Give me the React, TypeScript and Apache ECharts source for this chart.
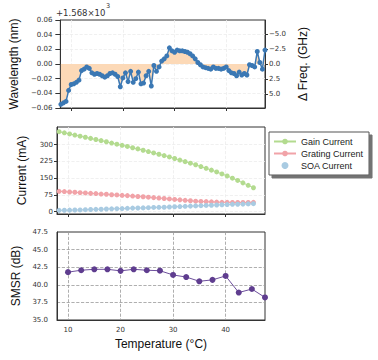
import React, { useEffect, useRef } from "react";
import * as echarts from "echarts";

// ---- Panel 1: wavelength offset (nm, relative to 1568 nm) ----
const tempsWl = [
  8, 8.5, 9, 9.5, 10, 10.5, 11, 11.5, 12, 12.5, 13, 13.5, 14, 14.5, 15, 15.5, 16, 16.5, 17, 17.5,
  18, 18.5, 19, 19.5, 20, 20.5, 21, 21.5, 22, 22.5, 23, 23.5, 24, 24.5, 25, 25.5, 26, 26.5, 27, 27.5,
  28, 28.5, 29, 29.5, 30, 30.5, 31, 31.5, 32, 32.5, 33, 33.5, 34, 34.5, 35, 35.5, 36, 36.5, 37, 37.5,
  38, 38.5, 39, 39.5, 40, 40.5, 41, 41.5, 42, 42.5, 43, 43.5, 44, 44.5, 45, 45.5, 46, 46.5, 47, 47.5,
];
const wavelengthOffset = [
  -0.055, -0.053, -0.051, -0.036, -0.028, -0.027, -0.025, -0.022, -0.009, -0.007,
  -0.004, -0.006, -0.012, -0.014, -0.013, -0.014, -0.016, -0.018, -0.016, -0.013,
  -0.012, -0.014, -0.017, -0.031, -0.019, -0.012, -0.024, -0.010, -0.025, -0.020,
  -0.011, -0.027, -0.026, -0.016, -0.010, -0.030, -0.002, -0.010, -0.004, 0.004,
  0.007, 0.011, 0.022, 0.018, 0.016, 0.019, 0.018, 0.018, 0.017, 0.016,
  0.014, 0.011, 0.007, 0.002, -0.001, -0.004, -0.005, -0.006, -0.007, -0.004,
  -0.006, -0.006, -0.007, -0.006, -0.004, -0.009, -0.012, -0.013, -0.016, -0.011,
  -0.015, -0.013, -0.015, -0.001, -0.002, -0.004, 0.017, 0.002, -0.007, 0.019,
];
const freqTicks = [-5, -2.5, 0, 2.5, 5];
const freqLimit = 7.32; // GHz equivalent of 0.06 nm at 1568 nm

// ---- Panel 2: currents (mA) ----
const tempsCur = [
  8.3, 9.3, 10.3, 11.3, 12.3, 13.3, 14.3, 15.3, 16.3, 17.3, 18.3, 19.3, 20.3, 21.3, 22.3, 23.3, 24.3, 25.3, 26.3,
  27.3, 28.3, 29.3, 30.3, 31.3, 32.3, 33.3, 34.3, 35.3, 36.3, 37.3, 38.3, 39.3, 40.3, 41.3, 42.3, 43.3, 44.3, 45.3,
];
const gainCurrent = [
  358, 353, 348, 343, 338, 333, 328, 323, 318, 313, 307, 302, 297, 292, 286, 281, 275, 269, 263,
  257, 251, 245, 238, 231, 224, 217, 210, 202, 194, 186, 178, 169, 160, 150, 140, 129, 118, 107,
];
const gratingCurrent = [
  91, 90, 88, 87, 85, 84, 82, 81, 79, 78, 76, 75, 73, 72, 70, 68, 67, 65, 63,
  61, 59, 57, 55, 53, 51, 49, 47, 46, 45, 44, 43, 42, 42, 41, 41, 41, 41, 42,
];
const soaCurrent = [
  6, 6.5, 7, 7.5, 8, 9, 10, 10.5, 11, 12, 13, 13.5, 14, 15, 16, 16.5, 17, 18, 19,
  19.5, 20, 21, 22, 23, 24, 25, 26, 27, 28, 29, 30, 31, 32, 33, 33.5, 34, 35, 36,
];
const currentTicks = [0, 75, 150, 225, 300];

// ---- Panel 3: SMSR (dB) ----
const tempsSmsr = [10, 12.5, 15, 17.5, 20, 22.5, 25, 27.5, 30, 32.5, 35, 37.5, 40, 42.5, 45, 47.5];
const smsr = [41.8, 42.07, 42.2, 42.2, 41.98, 42.2, 42.07, 42.0, 41.4, 41.1, 40.5, 40.7, 41.26, 38.9, 39.4, 38.2];

const tempTicks = [10, 20, 30, 40];

const TICK_FONT = "DejaVu Sans";
const NAME_FONT = "Liberation Sans";

function fmtSigned(v: number, d: number) {
  if (Math.abs(v) < 1e-9) return (0).toFixed(d);
  return (v < 0 ? "\u2212" : "") + Math.abs(v).toFixed(d);
}

export default function App() {
  const ref = useRef<HTMLDivElement>(null);
  useEffect(() => {
    if (!ref.current) return;
    const chart = echarts.init(ref.current, undefined, { renderer: "svg" });
    const gl = 57;
    const gw = 208;
    const grids = [
      { left: gl, top: 20, width: gw, height: 88 },
      { left: gl, top: 127, width: gw, height: 87 },
      { left: gl, top: 232, width: gw, height: 88 },
    ].map((g) => ({ ...g, show: true, borderColor: "#333", borderWidth: 1, backgroundColor: "transparent" }));

    const lightStyle = { color: "#ececec", type: "dashed" as const, width: 0.8 };
    const darkStyle = { color: "#9a9a9a", type: "dashed" as const, width: 0.8 };
    // custom-valued axes keep their end lines; interval axes hide the lines on the frame
    const lightSplitCustom = { show: true, lineStyle: lightStyle };
    const darkSplitCustom = { show: true, lineStyle: darkStyle };
    const lightSplitEdge = { show: true, showMinLine: false, showMaxLine: false, lineStyle: lightStyle };
    const darkSplitEdge = { show: true, showMinLine: false, showMaxLine: false, lineStyle: darkStyle };
    const axisLine = { show: true, onZero: false, lineStyle: { color: "#333" } };

    const xAxes = [0, 1, 2].map((i) => ({
      type: "value" as const,
      gridIndex: i,
      min: 7.9,
      max: 47.5,
      axisLine,
      axisTick: { show: i < 2, customValues: tempTicks, length: 3, lineStyle: { color: "#333" } },
      axisLabel: {
        show: i === 2,
        customValues: tempTicks,
        fontFamily: TICK_FONT,
        fontSize: 7,
        color: "#333",
        margin: 6,
      },
      splitLine: i === 2 ? darkSplitCustom : lightSplitCustom,
      ...(i === 2
        ? {
            name: "Temperature (\u00b0C)",
            nameLocation: "middle" as const,
            nameGap: 18,
            nameTextStyle: { fontFamily: NAME_FONT, fontSize: 12, color: "#111" },
          }
        : {}),
    }));

    const nameStyle = { fontFamily: NAME_FONT, fontSize: 12, color: "#111" };

    const yAxes = [
      {
        type: "value" as const,
        gridIndex: 0,
        min: -0.06,
        max: 0.06,
        interval: 0.02,
        position: "left" as const,
        name: "Wavelength (nm)",
        nameLocation: "middle" as const,
        nameRotate: 90,
        nameGap: 35,
        nameTextStyle: nameStyle,
        axisLine,
        axisTick: { show: true, length: 5, lineStyle: { color: "#333" } },
        axisLabel: {
          fontFamily: TICK_FONT,
          fontSize: 7,
          color: "#333",
          margin: 8,
          formatter: (v: number) => fmtSigned(v, 2),
        },
        splitLine: lightSplitEdge,
      },
      {
        type: "value" as const,
        gridIndex: 0,
        min: -freqLimit,
        max: freqLimit,
        inverse: true,
        position: "right" as const,
        name: "\u0394 Freq. (GHz)",
        nameLocation: "middle" as const,
        nameRotate: 90,
        nameGap: 31,
        nameTextStyle: nameStyle,
        axisLine,
        axisTick: { show: true, customValues: freqTicks, length: 3, lineStyle: { color: "#333" } },
        axisLabel: {
          customValues: freqTicks,
          fontFamily: TICK_FONT,
          fontSize: 7,
          color: "#333",
          margin: 4,
          formatter: (v: number) => fmtSigned(v, 1),
        },
        splitLine: { show: false },
      },
      {
        type: "value" as const,
        gridIndex: 1,
        min: -10.3,
        max: 379,
        name: "Current (mA)",
        nameLocation: "middle" as const,
        nameRotate: 90,
        nameGap: 29.5,
        nameTextStyle: nameStyle,
        axisLine,
        axisTick: { show: true, customValues: currentTicks, length: 3, lineStyle: { color: "#333" } },
        axisLabel: {
          customValues: currentTicks,
          fontFamily: TICK_FONT,
          fontSize: 7,
          color: "#333",
          margin: 4,
        },
        splitLine: lightSplitCustom,
      },
      {
        type: "value" as const,
        gridIndex: 2,
        min: 35,
        max: 47.5,
        interval: 2.5,
        name: "SMSR (dB)",
        nameLocation: "middle" as const,
        nameRotate: 90,
        nameGap: 31,
        nameTextStyle: nameStyle,
        axisLine,
        axisTick: { show: false },
        axisLabel: {
          fontFamily: TICK_FONT,
          fontSize: 7,
          color: "#333",
          margin: 9,
          formatter: (v: number) => v.toFixed(1),
        },
        splitLine: darkSplitEdge,
      },
    ];

    const blue = "#3b78b4";
    const green = "#b3db8f";
    const red = "#f1a3a8";
    const lblue = "#a9cbe2";
    const purple = "#5f3d8f";

    chart.setOption({
      animation: false,
      backgroundColor: "#fff",
      grid: grids,
      xAxis: xAxes,
      yAxis: yAxes,
      legend: {
        left: 269,
        top: 132,
        orient: "vertical",
        padding: [5, 6, 5, 4],
        itemGap: 3,
        itemWidth: 22,
        itemHeight: 7,
        backgroundColor: "#fff",
        borderColor: "#555",
        borderWidth: 1,
        borderRadius: 0,
        shadowColor: "rgba(0,0,0,0.55)",
        shadowOffsetX: 3,
        shadowOffsetY: 3,
        shadowBlur: 1,
        textStyle: { fontFamily: NAME_FONT, fontSize: 9, color: "#222" },
        data: [
          { name: "Gain Current" },
          { name: "Grating Current" },
          { name: "SOA Current", icon: "circle" },
        ],
      },
      graphic: [
        {
          type: "text",
          left: 56,
          top: 8,
          style: { text: "+1.568\u00d710", fontFamily: TICK_FONT, fontSize: 8.5, fill: "#333" },
        },
        {
          type: "text",
          left: 106,
          top: 2,
          style: { text: "3", fontFamily: TICK_FONT, fontSize: 6.5, fill: "#333" },
        },
      ],
      series: [
        {
          type: "line",
          xAxisIndex: 0,
          yAxisIndex: 0,
          data: tempsWl.map((t, i) => [t, wavelengthOffset[i]]),
          symbol: "circle",
          symbolSize: 5,
          itemStyle: { color: blue },
          lineStyle: { color: blue, width: 1.5 },
          areaStyle: { origin: 0, color: "#fcd9b7", opacity: 1 },
          z: 3,
        },
        {
          name: "Gain Current",
          type: "line",
          xAxisIndex: 1,
          yAxisIndex: 2,
          data: tempsCur.map((t, i) => [t, gainCurrent[i]]),
          symbol: "circle",
          symbolSize: 5,
          itemStyle: { color: green },
          lineStyle: { color: green, width: 1 },
        },
        {
          name: "Grating Current",
          type: "line",
          xAxisIndex: 1,
          yAxisIndex: 2,
          data: tempsCur.map((t, i) => [t, gratingCurrent[i]]),
          symbol: "circle",
          symbolSize: 5,
          itemStyle: { color: red },
          lineStyle: { color: red, width: 1 },
        },
        {
          name: "SOA Current",
          type: "line",
          xAxisIndex: 1,
          yAxisIndex: 2,
          data: tempsCur.map((t, i) => [t, soaCurrent[i]]),
          symbol: "circle",
          symbolSize: 5,
          itemStyle: { color: lblue },
          lineStyle: { color: lblue, width: 1 },
        },
        {
          type: "line",
          xAxisIndex: 2,
          yAxisIndex: 3,
          data: tempsSmsr.map((t, i) => [t, smsr[i]]),
          symbol: "circle",
          symbolSize: 6,
          itemStyle: { color: purple },
          lineStyle: { color: "#6d4f9c", width: 1 },
        },
      ],
    });
    return () => chart.dispose();
  }, []);
  return <div ref={ref} style={{ position: "fixed", left: 0, top: 0, width: 378, height: 360 }} />;
}
